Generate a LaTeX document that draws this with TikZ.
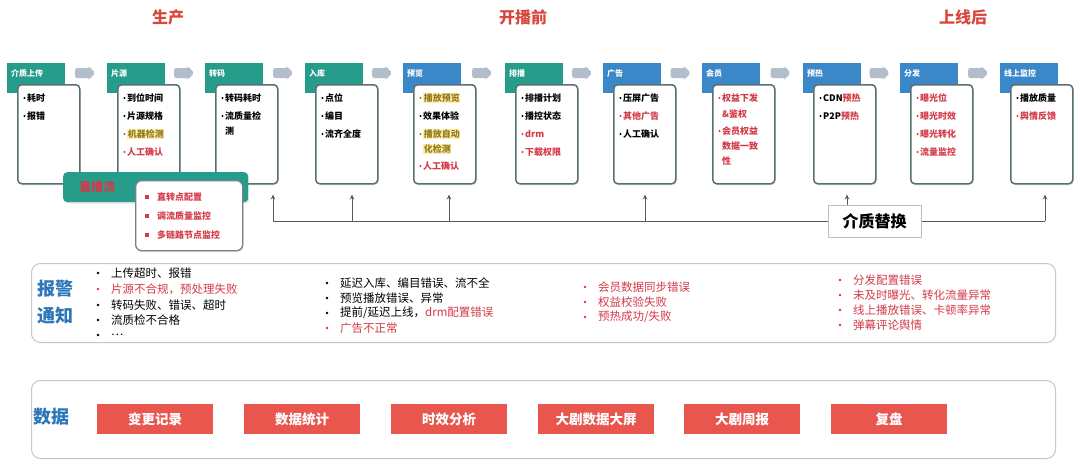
\documentclass[tikz,border=0pt]{standalone}
\usepackage{fontspec}
\setmainfont{Noto Sans CJK SC}
\usetikzlibrary{calc,shadows,arrows.meta}
\definecolor{tealh}{RGB}{38,156,138}
\definecolor{blueh}{RGB}{58,136,200}
\definecolor{bord}{RGB}{88,112,116}
\definecolor{arrg}{RGB}{178,190,204}
\definecolor{redt}{RGB}{212,58,72}
\definecolor{olv}{RGB}{150,120,30}
\definecolor{hly}{RGB}{250,240,170}
\definecolor{titr}{RGB}{216,70,60}
\definecolor{lblb}{RGB}{44,118,186}
\definecolor{datr}{RGB}{232,86,78}
\definecolor{lnc}{RGB}{85,90,95}
\newcommand\stg[4]{%
  \node[hdr, fill=#3] (#1h) at (#2,63) {};
  \node[hdrtxt] (#1t) at (#2+4,73) {#4};
  \node[bodybox] (#1) at (#2+10,84) {};
}
\newcommand\bit[5]{%
  \fill[#4] (#2+17.5,#3) circle (1.2pt);
  \node[itm, text=#4] (#1) at (#2+20,#3) {#5};
}
\newcommand\cit[5]{\node[itm, text=#4] (#1) at (#2+20,#3) {#5};}
\newcommand\yit[4]{%
  \fill[olv] (#2+17.5,#3) circle (1.2pt);
  \node[itm, text=olv, fill=hly, inner sep=0.6pt] (#1) at (#2+20,#3) {#4};
}
\newcommand\ycit[4]{\node[itm, text=olv, fill=hly, inner sep=0.6pt] (#1) at (#2+20,#3) {#4};}
\newcommand\alm[5]{%
  \fill[#4] (#2,#3) circle (1.3pt);
  \node[almtxt, text=#4] (#1) at (#2+13,#3) {#5};
}
\begin{document}
\begin{tikzpicture}[x=1pt,y=-1pt,
  hdr/.style={rectangle, minimum width=58pt, minimum height=30pt, inner sep=0, anchor=north west},
  hdrtxt/.style={font=\fontsize{8}{9}\selectfont\bfseries, text=white, anchor=west, inner sep=0},
  bodybox/.style={draw=bord, line width=1.5pt, fill=white, rounded corners=4pt, minimum width=62pt, minimum height=99pt, anchor=north west, inner sep=0, drop shadow={opacity=0.18,shadow xshift=1pt,shadow yshift=-1.5pt}},
  itm/.style={font=\fontsize{9}{10}\selectfont\bfseries, anchor=west, inner sep=0},
  ttl/.style={font=\fontsize{16}{16}\selectfont\bfseries, text=titr},
  lbl/.style={font=\fontsize{18}{18}\selectfont\bfseries, text=lblb},
  almtxt/.style={font=\fontsize{11.5}{12}\selectfont, anchor=west, inner sep=0},
  panel/.style={draw=gray!45, line width=1pt, rounded corners=9pt, fill=white, anchor=north west, minimum width=1024pt, inner sep=0},
  datbox/.style={fill=datr, minimum width=116pt, minimum height=30pt, inner sep=0, text=white, font=\fontsize{13.5}{14}\selectfont\bfseries},
  ln/.style={draw=lnc, line width=1pt},
  conn/.style={draw=lnc, line width=1pt, -{Stealth[length=5pt,width=4.5pt]}}
]
\useasboundingbox[fill=white] (0,0) rectangle (1080,474);

% titles
\node[ttl] (t1) at (168,17) {生产};
\node[ttl] (t2) at (523,17) {开播前};
\node[ttl] (t3) at (963,17) {上线后};

% stages
\stg{s1}{7}{tealh}{介质上传}
\stg{s2}{107}{tealh}{片源}
\stg{s3}{205}{tealh}{转码}
\stg{s4}{305}{tealh}{入库}
\stg{s5}{403}{blueh}{预览}
\stg{s6}{505}{tealh}{排播}
\stg{s7}{603}{blueh}{广告}
\stg{s8}{702}{blueh}{会员}
\stg{s9}{803}{blueh}{预热}
\stg{s10}{900}{blueh}{分发}
\stg{s11}{1000}{blueh}{线上监控}

% block arrows between stage headers
\foreach \a/\b in {s1/s2,s2/s3,s3/s4,s4/s5,s5/s6,s6/s7,s7/s8,s8/s9,s9/s10,s10/s11}{
  \coordinate (ar\a) at ($(\a h.north east)!0.5!(\b h.north west)+(-1,10)$);
  \fill[arrg, rounded corners=2pt] ($(ar\a)+(-10,-5)$) -- ($(ar\a)+(4,-5)$) -- ($(ar\a)+(4,-6.5)$)
     -- ($(ar\a)+(10,0)$) -- ($(ar\a)+(4,6.5)$) -- ($(ar\a)+(4,5)$) -- ($(ar\a)+(-10,5)$) -- cycle;
}

% items
\bit{s1a}{7}{98}{black}{耗时}
\bit{s1b}{7}{116}{black}{报错}

\bit{s2a}{107}{98}{black}{到位时间}
\bit{s2b}{107}{116}{black}{片源规格}
\yit{s2c}{107}{134}{机器检测}
\bit{s2d}{107}{152}{redt}{人工确认}

\bit{s3a}{205}{98}{black}{转码耗时}
\bit{s3b}{205}{116}{black}{流质量检}
\cit{s3c}{205}{131}{black}{测}

\bit{s4a}{305}{98}{black}{点位}
\bit{s4b}{305}{116}{black}{编目}
\bit{s4c}{305}{134}{black}{流齐全度}

\yit{s5a}{403}{98}{播放预览}
\bit{s5b}{403}{116}{black}{效果体验}
\yit{s5c}{403}{134}{播放自动}
\ycit{s5d}{403}{149}{化检测}
\bit{s5e}{403}{166}{redt}{人工确认}

\bit{s6a}{505}{98}{black}{排播计划}
\bit{s6b}{505}{116}{black}{播控状态}
\bit{s6c}{505}{134}{redt}{drm}
\bit{s6d}{505}{152}{redt}{下载权限}

\bit{s7a}{603}{98}{black}{压屏广告}
\bit{s7b}{603}{116}{redt}{其他广告}
\bit{s7c}{603}{134}{black}{人工确认}

\bit{s8a}{702}{98}{redt}{权益下发}
\cit{s8b}{702}{114}{redt}{\&鉴权}
\bit{s8c}{702}{131}{redt}{会员权益}
\cit{s8d}{702}{146}{redt}{数据一致}
\cit{s8e}{702}{161}{redt}{性}

\bit{s9a}{803}{98}{black}{CDN\textcolor{redt}{预热}}
\bit{s9b}{803}{116}{black}{P2P\textcolor{redt}{预热}}

\bit{s10a}{900}{98}{redt}{曝光位}
\bit{s10b}{900}{116}{redt}{曝光时效}
\bit{s10c}{900}{134}{redt}{曝光转化}
\bit{s10d}{900}{152}{redt}{流量监控}

\bit{s11a}{1000}{98}{black}{播放质量}
\bit{s11b}{1000}{116}{redt}{舆情反馈}

% overlay group
\node[fill=tealh, rounded corners=4pt, minimum width=185pt, minimum height=30pt, anchor=north west, inner sep=0, drop shadow={opacity=0.18,shadow xshift=1pt,shadow yshift=-1.5pt}] (zb) at (63,172) {};
\node[font=\fontsize{12}{12}\selectfont\bfseries, text=redt] (zbt) at (97,187) {直播流};
\node[draw=bord!85, line width=1.3pt, fill=white, rounded corners=6pt, minimum width=107pt, minimum height=70pt, anchor=north west, inner sep=0, drop shadow={opacity=0.18,shadow xshift=1pt,shadow yshift=-1.5pt}] (zw) at (135,180) {};
\foreach \yy/\tx/\nm in {197/直转点配置/z1,216/调流质量监控/z2,235/多链路节点监控/z3}{
  \fill[redt] (145,\yy-2) rectangle (149,\yy+2);
  \node[itm, text=redt] (\nm) at (157,\yy) {\tx};
}

% replacement connectors
\node[draw=gray!50, line width=1pt, fill=white, minimum width=93pt, minimum height=32pt, inner sep=0, font=\fontsize{16}{16}\selectfont\bfseries] (rep) at (874.5,221) {介质替换};
\coordinate (j0) at (273,221);
\coordinate (j1) at (352,221);
\coordinate (j2) at (449,221);
\coordinate (j3) at (645,221);
\coordinate (jr) at (1045,221);
\coordinate (jt) at ($(rep.north)+(-27.5,0)$);
\draw[ln] (j0) -- (rep.west);
\draw[ln] (rep.east) -- (jr);
\draw[conn] (j0) -- ($(j0 |- s3.south)+(0,10)$);
\draw[conn] (j1) -- ($(j1 |- s4.south)+(0,10)$);
\draw[conn] (j2) -- ($(j2 |- s5.south)+(0,10)$);
\draw[conn] (j3) -- ($(j3 |- s7.south)+(0,10)$);
\draw[conn] (jt) -- ($(jt |- s9.south)+(0,10)$);
\draw[conn] (jr) -- ($(jr |- s11.south)+(0,10)$);

% alarm panel
\node[panel, minimum height=79pt] (almp) at (31,263) {};
\node[lbl] (almA) at (55,289) {报警};
\node[lbl] (almB) at (55,316) {通知};
\alm{a1}{98}{273}{black}{上传超时、报错}
\alm{a2}{98}{289}{redt}{片源不合规，预处理失败}
\alm{a3}{98}{305}{black}{转码失败、错误、超时}
\alm{a4}{98}{320}{black}{流质检不合格}
\alm{a5}{98}{335}{black}{…}
\alm{b1}{327}{283}{black}{延迟入库、编目错误、流不全}
\alm{b2}{327}{298}{black}{预览播放错误、异常}
\alm{b3}{327}{313}{black}{提前/延迟上线，\textcolor{redt}{drm配置错误}}
\alm{b4}{327}{328}{redt}{广告不正常}
\alm{c1}{585}{287}{redt}{会员数据同步错误}
\alm{c2}{585}{302}{redt}{权益校验失败}
\alm{c3}{585}{317}{redt}{预热成功/失败}
\alm{d1}{840}{280}{redt}{分发配置错误}
\alm{d2}{840}{295}{redt}{未及时曝光、转化流量异常}
\alm{d3}{840}{310}{redt}{线上播放错误、卡顿率异常}
\alm{d4}{840}{325}{redt}{弹幕评论舆情}

% data panel
\node[panel, minimum height=78pt] (datp) at (31,380) {};
\node[lbl] (datl) at (52,417) {数据};
\node[datbox] (d1) at (155,419) {变更记录};
\node[datbox] (d2) at (302,419) {数据统计};
\node[datbox] (d3) at (449,419) {时效分析};
\node[datbox] (d4) at (596,419) {大剧数据大屏};
\node[datbox] (d5) at (742,419) {大剧周报};
\node[datbox] (d6) at (889,419) {复盘};
\end{tikzpicture}
\end{document}
